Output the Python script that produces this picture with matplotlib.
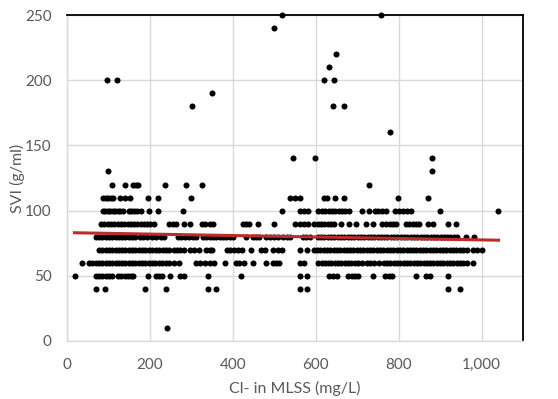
import matplotlib
matplotlib.use("Agg")

import matplotlib.pyplot as plt
import numpy as np
from matplotlib.ticker import FuncFormatter

# ============================================================
# Data: Cl- (mg/L) positions for each SVI level
# ============================================================

cl_at_svi_10 = [240]
cl_at_svi_40 = [71, 92, 189, 239, 339, 359, 561, 580, 918, 949]
cl_at_svi_50 = [19, 69, 77, 85, 93, 101, 109, 123, 131, 139, 147, 155, 160,
                196, 215, 222, 228, 249, 272, 281, 339, 419, 561, 578, 632,
                642, 652, 679, 687, 695, 703, 739, 768, 776, 784, 842, 866,
                876, 918]
cl_at_svi_60 = [37, 53, 61, 69, 77, 85, 93, 101, 109, 117, 125, 133, 141, 149,
                157, 165, 173, 181, 189, 197, 205, 213, 221, 229, 238, 247,
                258, 270, 311, 320, 334, 344, 355, 380, 408, 416, 426, 449,
                480, 497, 505, 511, 561, 572, 606, 614, 622, 630, 638, 646,
                654, 662, 670, 678, 686, 694, 702, 712, 724, 732, 740, 752,
                764, 772, 780, 788, 796, 804, 812, 820, 828, 836, 844, 852,
                860, 868, 876, 884, 892, 900, 908, 916, 924, 932, 940, 948,
                956, 966, 980]
cl_at_svi_70 = [77, 85, 93, 101, 109, 117, 125, 133, 141, 149, 157, 165, 173,
                181, 189, 197, 206, 215, 223, 231, 239, 247, 258, 265, 272,
                283, 297, 306, 319, 336, 344, 350, 385, 393, 402, 412, 422,
                443, 468, 478, 497, 509, 519, 561, 580, 595, 603, 611, 619,
                627, 635, 643, 651, 659, 667, 675, 683, 691, 699, 707, 715,
                723, 731, 739, 747, 755, 763, 771, 779, 787, 795, 803, 811,
                819, 827, 835, 843, 851, 859, 867, 875, 883, 891, 899, 907,
                915, 923, 931, 939, 947, 955, 966, 979, 990, 1002]
cl_at_svi_80 = [69, 77, 85, 93, 101, 109, 117, 125, 133, 141, 149, 157, 165,
                175, 183, 193, 204, 215, 227, 235, 268, 276, 284, 294, 303,
                312, 328, 336, 344, 352, 360, 368, 376, 384, 392, 400, 432,
                448, 456, 464, 480, 490, 500, 510, 520, 530, 537, 569, 577,
                585, 605, 613, 621, 629, 637, 645, 653, 661, 669, 677, 685,
                693, 701, 709, 717, 725, 733, 741, 749, 757, 765, 773, 781,
                789, 797, 805, 813, 821, 829, 837, 845, 853, 861, 869, 877,
                885, 893, 901, 909, 917, 925, 933, 941, 962, 981]
cl_at_svi_90 = [82, 90, 98, 106, 114, 122, 130, 138, 146, 154, 162, 170, 178,
                186, 194, 199, 211, 247, 256, 264, 283, 297, 326, 333, 345,
                352, 424, 432, 440, 460, 500, 551, 561, 571, 581, 597, 605,
                613, 621, 629, 637, 645, 662, 681, 697, 721, 739, 760, 770,
                778, 786, 794, 818, 826, 834, 842, 850, 870, 882, 919, 938]
cl_at_svi_100 = [86, 92, 98, 104, 110, 116, 122, 128, 134, 149, 155, 162, 170,
                 178, 198, 220, 280, 519, 561, 571, 581, 606, 615, 623, 631,
                 639, 647, 655, 663, 671, 680, 711, 729, 742, 750, 760, 770,
                 790, 800, 810, 820, 830, 899, 1040]
cl_at_svi_110 = [87, 93, 99, 105, 111, 127, 141, 153, 196, 220, 300, 538, 549,
                 561, 619, 626, 646, 669, 799, 872]
cl_at_svi_120 = [109, 140, 158, 166, 171, 236, 288, 325, 728]
cl_at_svi_130 = [98, 880]
cl_at_svi_140 = [546, 599, 880]

# scattered high values
outlier_cl = [778, 302, 641, 668, 349, 97, 120, 620, 643, 631, 648, 499, 519, 758]
outlier_svi = [160, 180, 180, 180, 190, 200, 200, 200, 200, 210, 220, 240, 250, 250]

# linear trendline end points
trend_cl = [18, 1041]
trend_svi = [83.0, 77.3]

x_ticks = [0, 200, 400, 600, 800, 1000]
y_ticks = [0, 50, 100, 150, 200, 250]


def main() -> None:
    rows = {
        10: cl_at_svi_10, 40: cl_at_svi_40, 50: cl_at_svi_50,
        60: cl_at_svi_60, 70: cl_at_svi_70, 80: cl_at_svi_80,
        90: cl_at_svi_90, 100: cl_at_svi_100, 110: cl_at_svi_110,
        120: cl_at_svi_120, 130: cl_at_svi_130, 140: cl_at_svi_140,
    }

    x = []
    y = []
    for svi, cls in rows.items():
        x.extend(cls)
        y.extend([svi] * len(cls))
    x.extend(outlier_cl)
    y.extend(outlier_svi)
    x = np.array(x, dtype=float)
    y = np.array(y, dtype=float)

    plt.rcParams["font.family"] = ["Lato", "DejaVu Sans"]

    fig = plt.figure(figsize=(5.58, 3.99), dpi=100)
    ax = fig.add_axes([0.1201, 0.1454, 0.8172, 0.8170])

    ax.scatter(x, y, s=19, color="black", linewidths=0, zorder=3, clip_on=False)
    ax.plot(trend_cl, trend_svi, color="#BE2B2B", lw=2.2, zorder=4)

    ax.set_xlim(0, 1100)
    ax.set_ylim(0, 250)
    ax.set_xticks(x_ticks)
    ax.set_yticks(y_ticks)
    ax.xaxis.set_major_formatter(FuncFormatter(lambda v, p: f"{int(v):,}"))

    ax.grid(True, color="#D9D9D9", lw=1.0, zorder=0)
    ax.set_axisbelow(True)

    ax.tick_params(length=0, labelsize=11, colors="#595959", pad=11)
    ax.tick_params(axis="x", pad=12)

    for side in ["left", "bottom"]:
        ax.spines[side].set_color("#D9D9D9")
        ax.spines[side].set_linewidth(1.0)
    for side in ["top", "right"]:
        ax.spines[side].set_color("black")
        ax.spines[side].set_linewidth(1.3)

    ax.set_xlabel("Cl- in MLSS (mg/L)", fontsize=11.5, color="#595959", labelpad=7)
    ax.set_ylabel("SVI (g/ml)", fontsize=11.5, color="#595959", labelpad=0)

    fig.savefig("out.png", dpi=100)
    plt.close(fig)


if __name__ == "__main__":
    main()
